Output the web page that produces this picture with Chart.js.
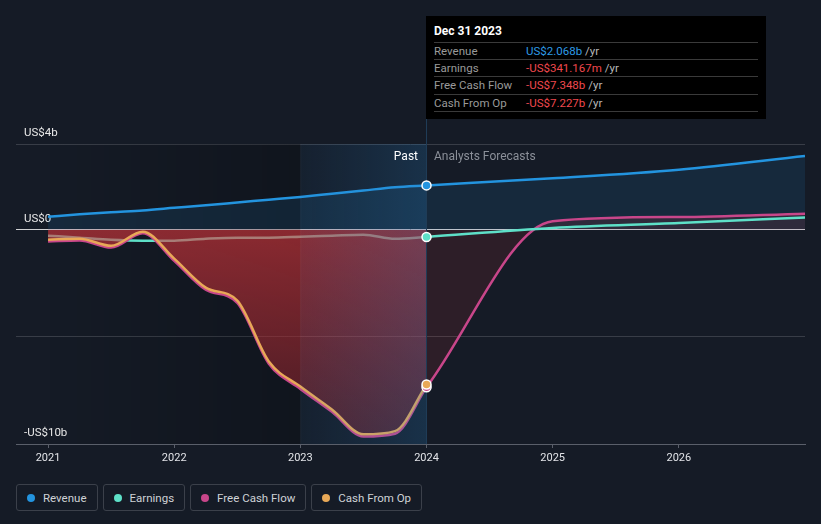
<!DOCTYPE html>
<html>
<head>
<meta charset="utf-8">
<script src="https://cdn.jsdelivr.net/npm/chart.js@4.4.1/dist/chart.umd.min.js"></script>
<style>
  body { margin: 0; background: #151b26; font-family: Roboto, "Noto Sans", sans-serif; }
  #wrap { position: relative; width: 821px; height: 524px; overflow: hidden; background: #151b26; }
  #chartFin { position: absolute; left: 0; top: 0; }
  .tip { position: absolute; left: 426px; top: 16px; width: 324px; height: 103px; padding: 0 8px; background: #000; color: #9a9a9a; font-size: 11.5px; }
  .tip .ttl { height: 25.7px; line-height: 15px; box-sizing: border-box; padding-top: 8px; color: #fff; font-weight: bold; font-size: 12px; }
  .tip .row { height: 17.3px; line-height: 16px; border-top: 1px solid #3a3a3a; box-sizing: border-box; display: flex; }
  .tip .row:last-child { border-bottom: 1px solid #3a3a3a; height: 18.3px; }
  .tip .lab { width: 92px; }
  .tip .per { color: #b8b8b8; margin-left: 3px; }
  .blue { color: #2e9be6; }
  .red { color: #f0484e; }
  .past { position: absolute; right: 403px; top: 149px; color: #fff; font-size: 12px; }
  .fore { position: absolute; left: 434px; top: 149px; color: #8b9099; font-size: 12px; }
  .legend { position: absolute; left: 16px; top: 484px; display: flex; gap: 5px; }
  .legend div { height: 27px; box-sizing: border-box; border: 1px solid #3b404a; border-radius: 3px; padding: 0 10px; display: flex; align-items: center; color: #cfd2d6; font-size: 11.5px; }
  .legend span { width: 8px; height: 8px; border-radius: 50%; margin-right: 8px; }
</style>
</head>
<body>
<div id="wrap">
  <canvas id="chartFin" width="821" height="480"></canvas>
  <div class="tip">
    <div class="ttl">Dec 31 2023</div>
    <div class="row"><div class="lab">Revenue</div><div class="blue">US$2.068b</div><div class="per">/yr</div></div>
    <div class="row"><div class="lab">Earnings</div><div class="red">-US$341.167m</div><div class="per">/yr</div></div>
    <div class="row"><div class="lab">Free Cash Flow</div><div class="red">-US$7.348b</div><div class="per">/yr</div></div>
    <div class="row"><div class="lab">Cash From Op</div><div class="red">-US$7.227b</div><div class="per">/yr</div></div>
  </div>
  <div class="past">Past</div>
  <div class="fore">Analysts Forecasts</div>
  <div class="legend">
    <div><span style="background:#2394df"></span>Revenue</div>
    <div><span style="background:#5ee0c8"></span>Earnings</div>
    <div><span style="background:#c8468a"></span>Free Cash Flow</div>
    <div><span style="background:#e8a857"></span>Cash From Op</div>
  </div>
</div>
<script>
// quarterly trailing values, US$ billions
var pastYears = [2021, 2021.25, 2021.5, 2021.75, 2022, 2022.25, 2022.5, 2022.75, 2023, 2023.25, 2023.5, 2023.75, 2024];
var revenuePast = [0.6, 0.72, 0.82, 0.9, 1.02, 1.14, 1.27, 1.4, 1.53, 1.68, 1.83, 1.98, 2.068];
var earningsPast = [-0.28, -0.37, -0.47, -0.51, -0.51, -0.42, -0.37, -0.37, -0.33, -0.28, -0.23, -0.42, -0.341];
var fcfPast = [-0.55, -0.5, -0.83, -0.17, -1.45, -2.8, -3.41, -6.25, -7.43, -8.5, -9.65, -9.52, -7.348];
var cfoPast = [-0.47, -0.42, -0.75, -0.09, -1.35, -2.7, -3.31, -6.15, -7.32, -8.39, -9.55, -9.4, -7.227];

// analyst forecasts
var foreYears = [2024, 2025, 2026, 2027];
var revenueFore = [2.068, 2.4, 2.8, 3.44];
var earningsFore = [-0.341, 0.08, 0.31, 0.57];
var fcfFore = [-7.348, 0.4, 0.59, 0.75];

var xTicks = [2021, 2022, 2023, 2024, 2025, 2026];
var yTicks = [-10, -5, 0, 4];
var yLabels = { "4": "US$4b", "0": "US$0", "-10": "-US$10b" };

function pts(xs, ys) {
    return xs.map(function (x, i) { return { x: x, y: ys[i] }; });
}

var last = pastYears.length - 1;

function redFill(c) {
    var chart = c.chart;
    var area = chart.chartArea;
    if (!area) return "rgba(220,55,60,0.5)";
    var y0 = chart.scales.y.getPixelForValue(0);
    var g = chart.ctx.createLinearGradient(0, y0, 0, area.bottom);
    g.addColorStop(0, "rgba(220,55,60,0.6)");
    g.addColorStop(1, "rgba(200,45,55,0.3)");
    return g;
}

var overlay = {
    id: "overlay",
    beforeDatasetsDraw: function (chart) {
        var ctx = chart.ctx, a = chart.chartArea, x = chart.scales.x;
        var x0 = x.getPixelForValue(2021), x1 = x.getPixelForValue(2023);
        var g = ctx.createLinearGradient(x0, 0, x1, 0);
        g.addColorStop(0, "rgba(0,0,0,0)");
        g.addColorStop(1, "rgba(0,0,0,0.22)");
        ctx.save();
        ctx.fillStyle = g;
        ctx.fillRect(a.left, a.top, x1 - a.left, a.bottom - a.top);
        ctx.restore();
    },
    afterDatasetDraw: function (chart, args) {
        if (chart.data.datasets[args.index].label !== "cfoPast") return;
        var ctx = chart.ctx, a = chart.chartArea, x = chart.scales.x;
        var x1 = x.getPixelForValue(2023), x2 = x.getPixelForValue(2024);
        var g = ctx.createLinearGradient(x1, 0, x2, 0);
        g.addColorStop(0, "rgba(40,130,200,0.06)");
        g.addColorStop(1, "rgba(40,130,200,0.22)");
        ctx.save();
        ctx.fillStyle = g;
        ctx.fillRect(x1, a.top, x2 - x1, a.bottom - a.top);
        ctx.fillStyle = "rgba(255,255,255,0.04)";
        ctx.fillRect(x1, a.top, 1, a.bottom - a.top);
        ctx.fillStyle = "#1f3c57";
        ctx.fillRect(Math.round(x2) - 1, 16, 1, a.bottom - 16);
        ctx.restore();
    }
};

var lineBase = {
    pointRadius: 0,
    borderWidth: 2.5,
    cubicInterpolationMode: "monotone",
    fill: false
};

var ctxFin = document.getElementById("chartFin").getContext("2d");
var chartFin = new Chart(ctxFin, {
    type: "line",
    data: {
        datasets: [
            Object.assign({}, lineBase, {
                label: "revPast", order: 9, data: pts(pastYears, revenuePast),
                borderColor: "#2394df", fill: "origin", backgroundColor: "rgba(35,150,223,0.12)",
            }),
            Object.assign({}, lineBase, {
                label: "revFore", order: 8, data: pts(foreYears, revenueFore),
                borderColor: "#2394df", fill: "origin", backgroundColor: "rgba(35,150,223,0.12)",
            }),
            Object.assign({}, lineBase, {
                label: "earnPast", order: 7, data: pts(pastYears, earningsPast),
                borderColor: "#5ee0c8",
            }),
            Object.assign({}, lineBase, {
                label: "fcfFore", order: 6, data: pts(foreYears, fcfFore),
                borderColor: "#c8468a", fill: "origin", backgroundColor: "rgba(220,55,60,0.12)",
            }),
            Object.assign({}, lineBase, {
                label: "fcfPast", order: 5, data: pts(pastYears, fcfPast),
                borderColor: "#c8468a", fill: "origin", backgroundColor: redFill,
            }),
            Object.assign({}, lineBase, {
                label: "cfoPast", order: 4, data: pts(pastYears, cfoPast),
                borderColor: "#e8a857",
            }),
            Object.assign({}, lineBase, {
                label: "earnFore", order: 3, data: pts(foreYears, earningsFore),
                borderColor: "#5ee0c8",
            }),
            {
                label: "markers", order: 0, showLine: false,
                data: [
                    { x: pastYears[last], y: revenuePast[last] },
                    { x: pastYears[last], y: earningsPast[last] },
                    { x: pastYears[last], y: fcfPast[last] },
                    { x: pastYears[last], y: cfoPast[last] },
                ],
                pointRadius: 4.5,
                pointBorderWidth: 1.5,
                pointBorderColor: "#ffffff",
                pointBackgroundColor: ["#2394df", "#5ee0c8", "#c8468a", "#e8a857"],
            },
        ],
    },
    options: {
        responsive: false,
        animation: false,
        events: [],
        layout: { padding: { top: 144, left: 16, right: 16, bottom: 0 } },
        plugins: { legend: { display: false }, tooltip: { enabled: false } },
        scales: {
            x: {
                type: "linear",
                min: 2020.746,
                max: 2027,
                afterBuildTicks: function (s) { s.ticks = xTicks.map(function (v) { return { value: v }; }); },
                afterFit: function (s) { s.height = 36; },
                grid: { drawOnChartArea: false, drawTicks: true, tickLength: 4, color: "#5a5f6a" },
                border: { display: true, color: "#5a5f6a" },
                ticks: {
                    padding: 4,
                    color: "#e2e4e8",
                    font: { family: "Roboto", size: 11 },
                    callback: function (v) { return String(v); },
                },
            },
            y: {
                min: -10,
                max: 4,
                afterBuildTicks: function (s) { s.ticks = yTicks.map(function (v) { return { value: v }; }); },
                afterFit: function (s) { s.width = 0; },
                grid: {
                    drawTicks: false,
                    color: function (c) { return c.tick && c.tick.value === 0 ? "#cfd0d2" : "#383d47"; },
                },
                border: { display: false },
                ticks: {
                    mirror: true,
                    padding: 8,
                    labelOffset: -11,
                    color: "#e8e8e8",
                    font: { family: "Roboto", size: 11.5 },
                    callback: function (v) { return yLabels[String(v)] || ""; },
                },
            },
        },
    },
    plugins: [overlay],
});
</script>
</body>
</html>
